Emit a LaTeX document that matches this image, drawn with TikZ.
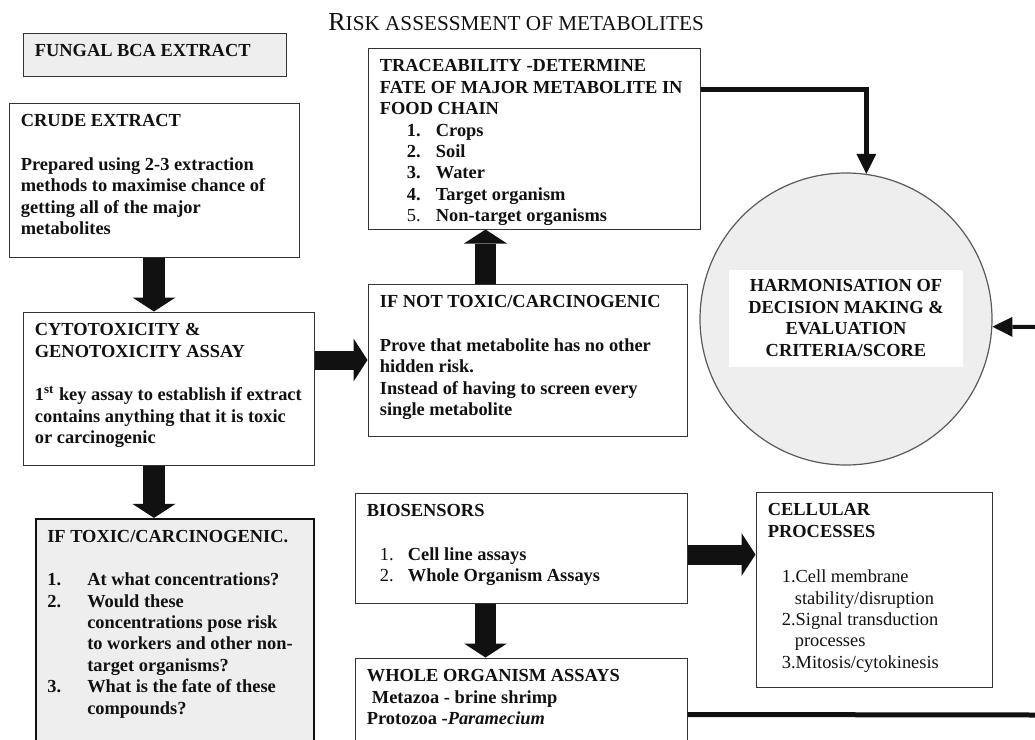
\documentclass[tikz,border=0pt]{standalone}
\usepackage{fontspec}
\setmainfont{Liberation Serif}
\usetikzlibrary{arrows.meta,positioning,fit}
\definecolor{MetaInk}{HTML}{111111}
\definecolor{MetaShade}{HTML}{EEEEEE}
\definecolor{MetaRim}{HTML}{333333}
\definecolor{MetaRing}{HTML}{5A5A5A}
\newcommand{\bodyfont}{\fontsize{9.2}{10.7}\selectfont\bfseries}
\newcommand{\itemno}[2][14.5pt]{\makebox[#1][l]{#2}}
\tikzset{
  stepbox/.style={draw=MetaRim, line width=0.5pt, fill=white, inner sep=0pt},
  shadebox/.style={stepbox, fill=MetaShade},
  riskbox/.style={shadebox, draw=MetaInk, line width=1.1pt},
  bodytext/.style={anchor=north west, inner sep=0pt, align=left, font=\bodyfont, text=MetaInk},
  fatarrow/.style={-{Triangle[length=7pt,width=21.5pt,line width=0pt]}, line width=11pt, MetaInk},
  linkarrow/.style={-{Triangle[length=10pt,width=10pt,line width=0pt]}, line width=2.5pt, MetaInk},
  linkline/.style={line width=2.5pt, MetaInk},
}

\begin{document}
\begin{tikzpicture}[x=0.5pt, y=-0.5pt]
  \useasboundingbox (0,0) rectangle (1035,740);
  \clip (0,0) rectangle (1035,740);

  % \stage{name}{x1}{y1}{x2}{y2}{box style}{text}
  \newcommand{\stage}[7]{%
    \node[#6, fit={(#2,#3) (#4,#5)}] (#1) {};
    \node[bodytext] (#1-text) at ([shift={(6pt,-4pt)}]#1.north west) {\rule{0pt}{8pt}#7};
  }

  \node[anchor=base west, inner sep=0pt, font=\fontsize{10.6}{12}\selectfont, text=MetaInk] (title) at (328,30)
    {{\fontsize{13}{14}\selectfont R}ISK ASSESSMENT OF METABOLITES};

  \stage{fungal}{23}{33}{286}{76}{shadebox}{FUNGAL BCA EXTRACT}
  \stage{crude}{9}{103}{299}{257}{stepbox}{CRUDE EXTRACT\\[11pt]
    Prepared using 2-3 extraction\\ methods to maximise chance of\\
    getting all of the major\\ metabolites}
  \stage{cytotox}{23}{312}{314}{465}{stepbox}{CYTOTOXICITY \&\\ GENOTOXICITY ASSAY\\[11pt]
    1\textsuperscript{st} key assay to establish if extract\\
    contains anything that it is toxic\\ or carcinogenic}
  \stage{tox}{36}{519}{314}{770}{riskbox}{IF TOXIC/CARCINOGENIC.\\[11pt]
    \itemno[20pt]{1.}At what concentrations?\\
    \itemno[20pt]{2.}Would these\\
    \hspace*{20pt}concentrations pose risk\\
    \hspace*{20pt}to workers and other non-\\
    \hspace*{20pt}target organisms?\\
    \itemno[20pt]{3.}What is the fate of these\\
    \hspace*{20pt}compounds?}

  \stage{trace}{368}{48}{700}{229}{stepbox}{TRACEABILITY -DETERMINE\\
    FATE OF MAJOR METABOLITE IN\\ FOOD CHAIN\\
    \hspace*{13.5pt}\itemno{1.}Crops\\
    \hspace*{13.5pt}\itemno{2.}Soil\\
    \hspace*{13.5pt}\itemno{3.}Water\\
    \hspace*{13.5pt}\itemno{4.}Target organism\\
    \hspace*{13.5pt}\itemno{\mdseries 5.}Non-target organisms}
  \stage{ifnot}{368}{284}{687}{436}{stepbox}{IF NOT TOXIC/CARCINOGENIC\\[11pt]
    Prove that metabolite has no other\\ hidden risk.\\
    Instead of having to screen every\\ single metabolite}
  \stage{bio}{355}{493}{687}{603}{stepbox}{BIOSENSORS\\[11pt]
    \hspace*{6.5pt}\itemno[14pt]{\mdseries 1.}Cell line assays\\
    \hspace*{6.5pt}\itemno[14pt]{\mdseries 2.}Whole Organism Assays}
  \stage{whole}{355}{658}{687}{770}{stepbox}{WHOLE ORGANISM ASSAYS\\
    \hspace*{2.5pt}Metazoa - brine shrimp\\ Protozoa -\textit{Paramecium}}
  \stage{cell}{756}{492}{992}{687}{stepbox}{CELLULAR\\ PROCESSES\\[12pt]
    \hspace*{7pt}\textmd{1.Cell membrane}\\
    \hspace*{13.5pt}\textmd{stability/disruption}\\
    \hspace*{7pt}\textmd{2.Signal transduction}\\
    \hspace*{13.5pt}\textmd{processes}\\
    \hspace*{7pt}\textmd{3.Mitosis/cytokinesis}}

  % decision circle
  \node[circle, draw=MetaRing, line width=0.6pt, fill=MetaShade, inner sep=0pt,
        minimum size=146pt] (harmon) at (846,319) {};
  \node[fill=white, inner sep=0pt, minimum width=117pt, minimum height=48.5pt,
        align=center, font=\bodyfont, text=MetaInk] (harmon-text) at (846,318)
        {HARMONISATION OF\\ DECISION MAKING \&\\ EVALUATION\\ CRITERIA/SCORE};

  % block arrows
  \draw[fatarrow] (crude.south) -- (crude.south |- cytotox.north);
  \draw[fatarrow] (crude.south |- cytotox.south) -- (crude.south |- tox.north);
  \draw[fatarrow, line width=9.5pt] (cytotox.east |- ifnot.west) -- (ifnot.west);
  \coordinate (upfoot) at ([xshift=59pt]ifnot.north west);
  \draw[fatarrow, line width=10.5pt] (upfoot) -- (upfoot |- trace.south);
  \coordinate (biofoot) at ([xshift=65.5pt]bio.south west);
  \draw[fatarrow, line width=10.5pt] (biofoot) -- (biofoot |- whole.north);
  \coordinate (bioside) at ([yshift=-31pt]bio.north east);
  \draw[fatarrow, line width=10pt] (bioside) -- (bioside -| cell.west);

  % links to the circle
  \draw[linkarrow] ([yshift=-21pt]trace.north east) -| (harmon.82);
  \coordinate (rightin) at (1035,327);
  \draw[linkarrow, line width=2pt] (rightin) -- (harmon.-3);
  \coordinate (rightout) at (1035,715);
  \draw[linkline] ([yshift=-28.5pt]whole.north east) -- (rightout);

\end{tikzpicture}
\end{document}
